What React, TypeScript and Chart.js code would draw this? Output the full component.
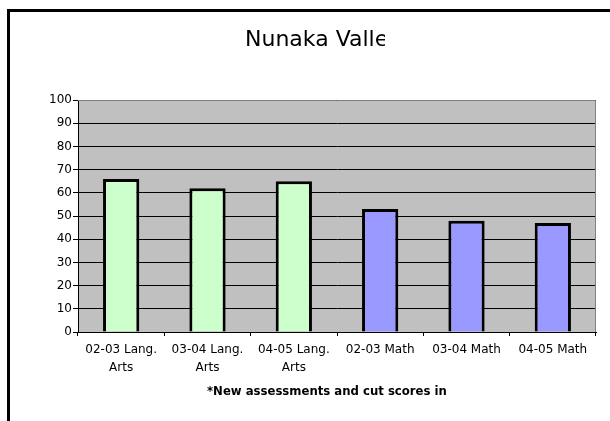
import React, { useEffect, useRef } from "react";
import { Chart, registerables } from "chart.js";

Chart.register(...registerables);

const titleText = "Nunaka Valle";
const footerText = "*New assessments and cut scores in";
const categories: string[][] = [
  ["02-03 Lang.", "Arts"],
  ["03-04 Lang.", "Arts"],
  ["04-05 Lang.", "Arts"],
  ["02-03 Math"],
  ["03-04 Math"],
  ["04-05 Math"],
];
const values = [66, 62, 65, 53, 48, 47];
const barColors = ["#CCFFCC", "#CCFFCC", "#CCFFCC", "#9999FF", "#9999FF", "#9999FF"];

const decorPlugin = {
  id: "decor",
  beforeDraw(chart: any) {
    const { ctx, chartArea } = chart;
    ctx.save();
    ctx.fillStyle = "#C0C0C0";
    ctx.fillRect(chartArea.left, chartArea.top, chartArea.right - chartArea.left, chartArea.bottom - chartArea.top);
    ctx.restore();
  },
  afterDraw(chart: any) {
    const { ctx, chartArea } = chart;
    ctx.save();
    ctx.strokeStyle = "#808080";
    ctx.lineWidth = 1;
    ctx.beginPath();
    ctx.moveTo(chartArea.left, chartArea.top + 0.5);
    ctx.lineTo(chartArea.right - 0.5, chartArea.top + 0.5);
    ctx.lineTo(chartArea.right - 0.5, chartArea.bottom);
    ctx.stroke();
    ctx.beginPath();
    ctx.rect(0, 0, 385, 100);
    ctx.clip();
    ctx.fillStyle = "#000";
    ctx.font = "22px 'DejaVu Sans'";
    ctx.textAlign = "left";
    ctx.textBaseline = "alphabetic";
    ctx.fillText(titleText, 245, 46);
    ctx.restore();
    ctx.save();
    ctx.fillStyle = "#000";
    ctx.font = "bold 11.7px 'DejaVu Sans'";
    ctx.textAlign = "left";
    ctx.textBaseline = "middle";
    ctx.fillText(footerText, 207, 392);
    ctx.restore();
  },
};

export default function App() {
  const ref = useRef<HTMLCanvasElement>(null);
  useEffect(() => {
    const chart = new Chart(ref.current!, {
      type: "bar",
      data: {
        labels: categories,
        datasets: [
          {
            data: values,
            backgroundColor: barColors,
            borderColor: "#000",
            borderWidth: 3,
            categoryPercentage: 1,
            barPercentage: 0.42,
          },
        ],
      },
      options: {
        animation: false,
        responsive: false,
        maintainAspectRatio: false,
        layout: { padding: { left: 0, top: 100, right: 14, bottom: 0 } },
        plugins: { legend: { display: false }, title: { display: false }, tooltip: { enabled: false } },
        scales: {
          y: {
            min: 0,
            max: 100,
            ticks: { stepSize: 10, color: "#000", padding: 1, font: { family: "DejaVu Sans", size: 12 } },
            grid: { color: "#000", lineWidth: 1, tickLength: 5, drawTicks: true },
            border: { color: "#000", width: 1 },
            afterFit(scale: any) {
              scale.width = 78;
            },
          },
          x: {
            ticks: {
              color: "#000",
              padding: 5,
              maxRotation: 0,
              autoSkip: false,
              font: { family: "DejaVu Sans", size: 12, lineHeight: 1.5 },
            },
            grid: { color: "#000", drawOnChartArea: false, tickLength: 4, offset: true },
            border: { color: "#000", width: 1 },
            afterFit(scale: any) {
              scale.height = 89;
            },
          },
        },
      },
      plugins: [decorPlugin],
    });
    return () => chart.destroy();
  }, []);
  return (
    <div style={{ position: "fixed", left: 0, top: 0, width: 610, height: 421, background: "#fff" }}>
      <canvas ref={ref} width={610} height={421} style={{ position: "absolute", left: 0, top: 0 }} />
      <div
        style={{
          position: "absolute",
          left: 7,
          top: 9,
          width: 610,
          height: 421,
          borderLeft: "3px solid #000",
          borderTop: "3px solid #000",
          pointerEvents: "none",
        }}
      />
    </div>
  );
}
